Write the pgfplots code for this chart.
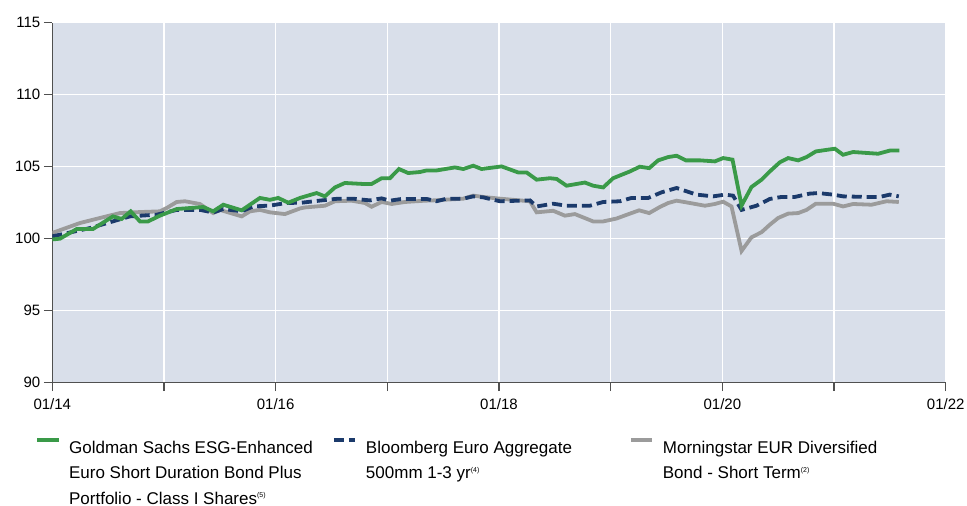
\documentclass[border=0pt]{standalone}
\usepackage{fontspec}
\setmainfont{Liberation Sans}
\usepackage{pgfplots}
\pgfplotsset{compat=1.18}
\definecolor{gsgreen}{HTML}{3A9A48}
\definecolor{bbblue}{HTML}{1B3A6B}
\definecolor{msgray}{HTML}{9B9B9B}
\definecolor{bgcol}{HTML}{D9DFEA}
\definecolor{axcol}{HTML}{505050}
\begin{document}
\begin{tikzpicture}
\path[use as bounding box] (-52.3pt,-123.3pt) rectangle (914.7pt,382.7pt);
\begin{axis}[
  scale only axis, width=893.4pt, height=360pt,
  xmin=0, xmax=8, ymin=90, ymax=115,
  xtick={0,...,8}, xticklabels={01/14,,01/16,,01/18,,01/20,,01/22},
  ytick={90,95,...,115},
  axis x line*=bottom, axis y line*=left,
  axis line style={-, draw=axcol, line width=1.3pt},
  tick align=outside, major tick length=8.5pt,
  tick style={draw=axcol, line width=1.3pt},
  grid=major, grid style={white, line width=1.5pt},
  axis background/.style={fill=bgcol},
  tick label style={font=\fontsize{15}{15}\selectfont},
  xticklabel style={yshift=-4pt},
  /pgf/number format/assume math mode=true,
  legend columns=3, reverse legend,
  legend cell align=left,
  legend style={draw=none, fill=none, at={(rel axis cs:0,0)}, anchor=north west,
    xshift=-17.3pt, yshift=-55.3pt, inner sep=0pt,
    font=\fontsize{17}{25.5}\selectfont},
  legend image code/.code={\draw[#1] (0pt,7.5pt) -- (21.5pt,7.5pt); \path[draw=none] (0pt,0pt) -- (30pt,0pt);},
]
\addplot[msgray, line width=3.8pt] coordinates {
(0.000,100.40) (0.248,101.09) (0.427,101.44) (0.606,101.78) (0.785,101.85)
(0.964,101.90) (1.024,102.13) (1.114,102.55) (1.188,102.60) (1.322,102.41)
(1.441,101.78) (1.501,102.00) (1.696,101.55) (1.770,101.90) (1.859,102.00)
(1.949,101.83) (2.083,101.71) (2.218,102.10) (2.262,102.17) (2.441,102.29)
(2.531,102.60) (2.680,102.64) (2.799,102.48) (2.859,102.22) (2.949,102.55)
(3.039,102.41) (3.158,102.55) (3.337,102.64) (3.411,102.66) (3.680,102.78)
(3.769,102.99) (3.859,102.90) (4.008,102.78) (4.187,102.66) (4.277,102.60)
(4.337,101.83) (4.485,101.94) (4.590,101.60) (4.680,101.71) (4.843,101.20)
(4.933,101.20) (5.052,101.40) (5.172,101.74) (5.255,101.97) (5.345,101.78)
(5.440,102.20) (5.515,102.48) (5.590,102.64) (5.680,102.52) (5.844,102.29)
(5.933,102.41) (6.007,102.57) (6.082,102.24) (6.172,99.15) (6.261,100.10)
(6.351,100.45) (6.425,100.97) (6.500,101.44) (6.589,101.74) (6.679,101.78)
(6.754,102.00) (6.837,102.43) (6.992,102.43) (7.081,102.24) (7.171,102.41)
(7.336,102.36) (7.470,102.60) (7.580,102.55)
};
\addlegendentry{\parbox[t]{261pt}{Morningstar EUR Diversified\\Bond - Short Term\textsuperscript{\fontsize{7}{7}\selectfont(2)}}}
\addplot[bbblue, line width=3.8pt, dash pattern=on 10pt off 5pt] coordinates {
(0.000,100.16) (0.338,100.74) (0.696,101.55) (0.935,101.67) (1.024,101.83)
(1.114,102.00) (1.322,102.00) (1.441,101.82) (1.531,102.06) (1.696,101.90)
(1.799,102.24) (1.949,102.30) (2.098,102.48) (2.233,102.50) (2.412,102.66)
(2.560,102.78) (2.692,102.78) (2.844,102.66) (2.949,102.80) (3.023,102.64)
(3.128,102.76) (3.352,102.76) (3.441,102.60) (3.531,102.78) (3.680,102.78)
(3.769,102.94) (3.859,102.87) (4.008,102.60) (4.277,102.66) (4.337,102.24)
(4.485,102.43) (4.605,102.29) (4.814,102.29) (4.933,102.55) (5.083,102.60)
(5.187,102.83) (5.336,102.83) (5.456,103.22) (5.590,103.52) (5.769,103.06)
(5.918,102.94) (6.022,103.06) (6.096,102.99) (6.172,102.00) (6.306,102.29)
(6.425,102.76) (6.530,102.90) (6.649,102.90) (6.783,103.13) (6.858,103.17)
(6.992,103.06) (7.081,102.94) (7.290,102.90) (7.409,102.90) (7.499,103.06)
(7.580,102.94)
};
\addlegendentry{\parbox[t]{261pt}{Bloomberg Euro Aggregate\\500mm 1-3 yr\textsuperscript{\fontsize{7}{7}\selectfont(4)}}}
\addplot[gsgreen, line width=3.8pt] coordinates {
(0.000,99.95) (0.069,100.00) (0.218,100.67) (0.364,100.67) (0.543,101.55)
(0.621,101.37) (0.702,101.90) (0.785,101.20) (0.857,101.20) (0.964,101.60)
(1.114,102.06) (1.352,102.20) (1.441,101.90) (1.531,102.36) (1.696,101.97)
(1.859,102.83) (1.949,102.70) (2.023,102.83) (2.113,102.50) (2.218,102.83)
(2.367,103.17) (2.441,102.94) (2.531,103.56) (2.620,103.87) (2.784,103.80)
(2.859,103.80) (2.949,104.20) (3.023,104.20) (3.104,104.84) (3.187,104.56)
(3.292,104.63) (3.352,104.74) (3.441,104.74) (3.605,104.95) (3.680,104.84)
(3.769,105.07) (3.844,104.84) (4.023,105.02) (4.172,104.60) (4.247,104.60)
(4.337,104.10) (4.456,104.20) (4.516,104.15) (4.605,103.68) (4.769,103.90)
(4.843,103.68) (4.933,103.56) (5.022,104.20) (5.172,104.67) (5.261,105.00)
(5.345,104.90) (5.425,105.44) (5.515,105.67) (5.590,105.76) (5.673,105.44)
(5.799,105.44) (5.933,105.37) (6.007,105.60) (6.091,105.49) (6.172,102.30)
(6.261,103.59) (6.351,104.10) (6.425,104.67) (6.514,105.30) (6.589,105.60)
(6.679,105.44) (6.754,105.67) (6.837,106.06) (7.007,106.25) (7.081,105.83)
(7.171,106.02) (7.395,105.90) (7.505,106.13) (7.585,106.13)
};
\addlegendentry{\parbox[t]{261pt}{Goldman Sachs ESG-Enhanced\\Euro Short Duration Bond Plus\\Portfolio - Class I Shares\textsuperscript{\fontsize{7}{7}\selectfont(5)}}}
\end{axis}
\end{tikzpicture}
\end{document}
